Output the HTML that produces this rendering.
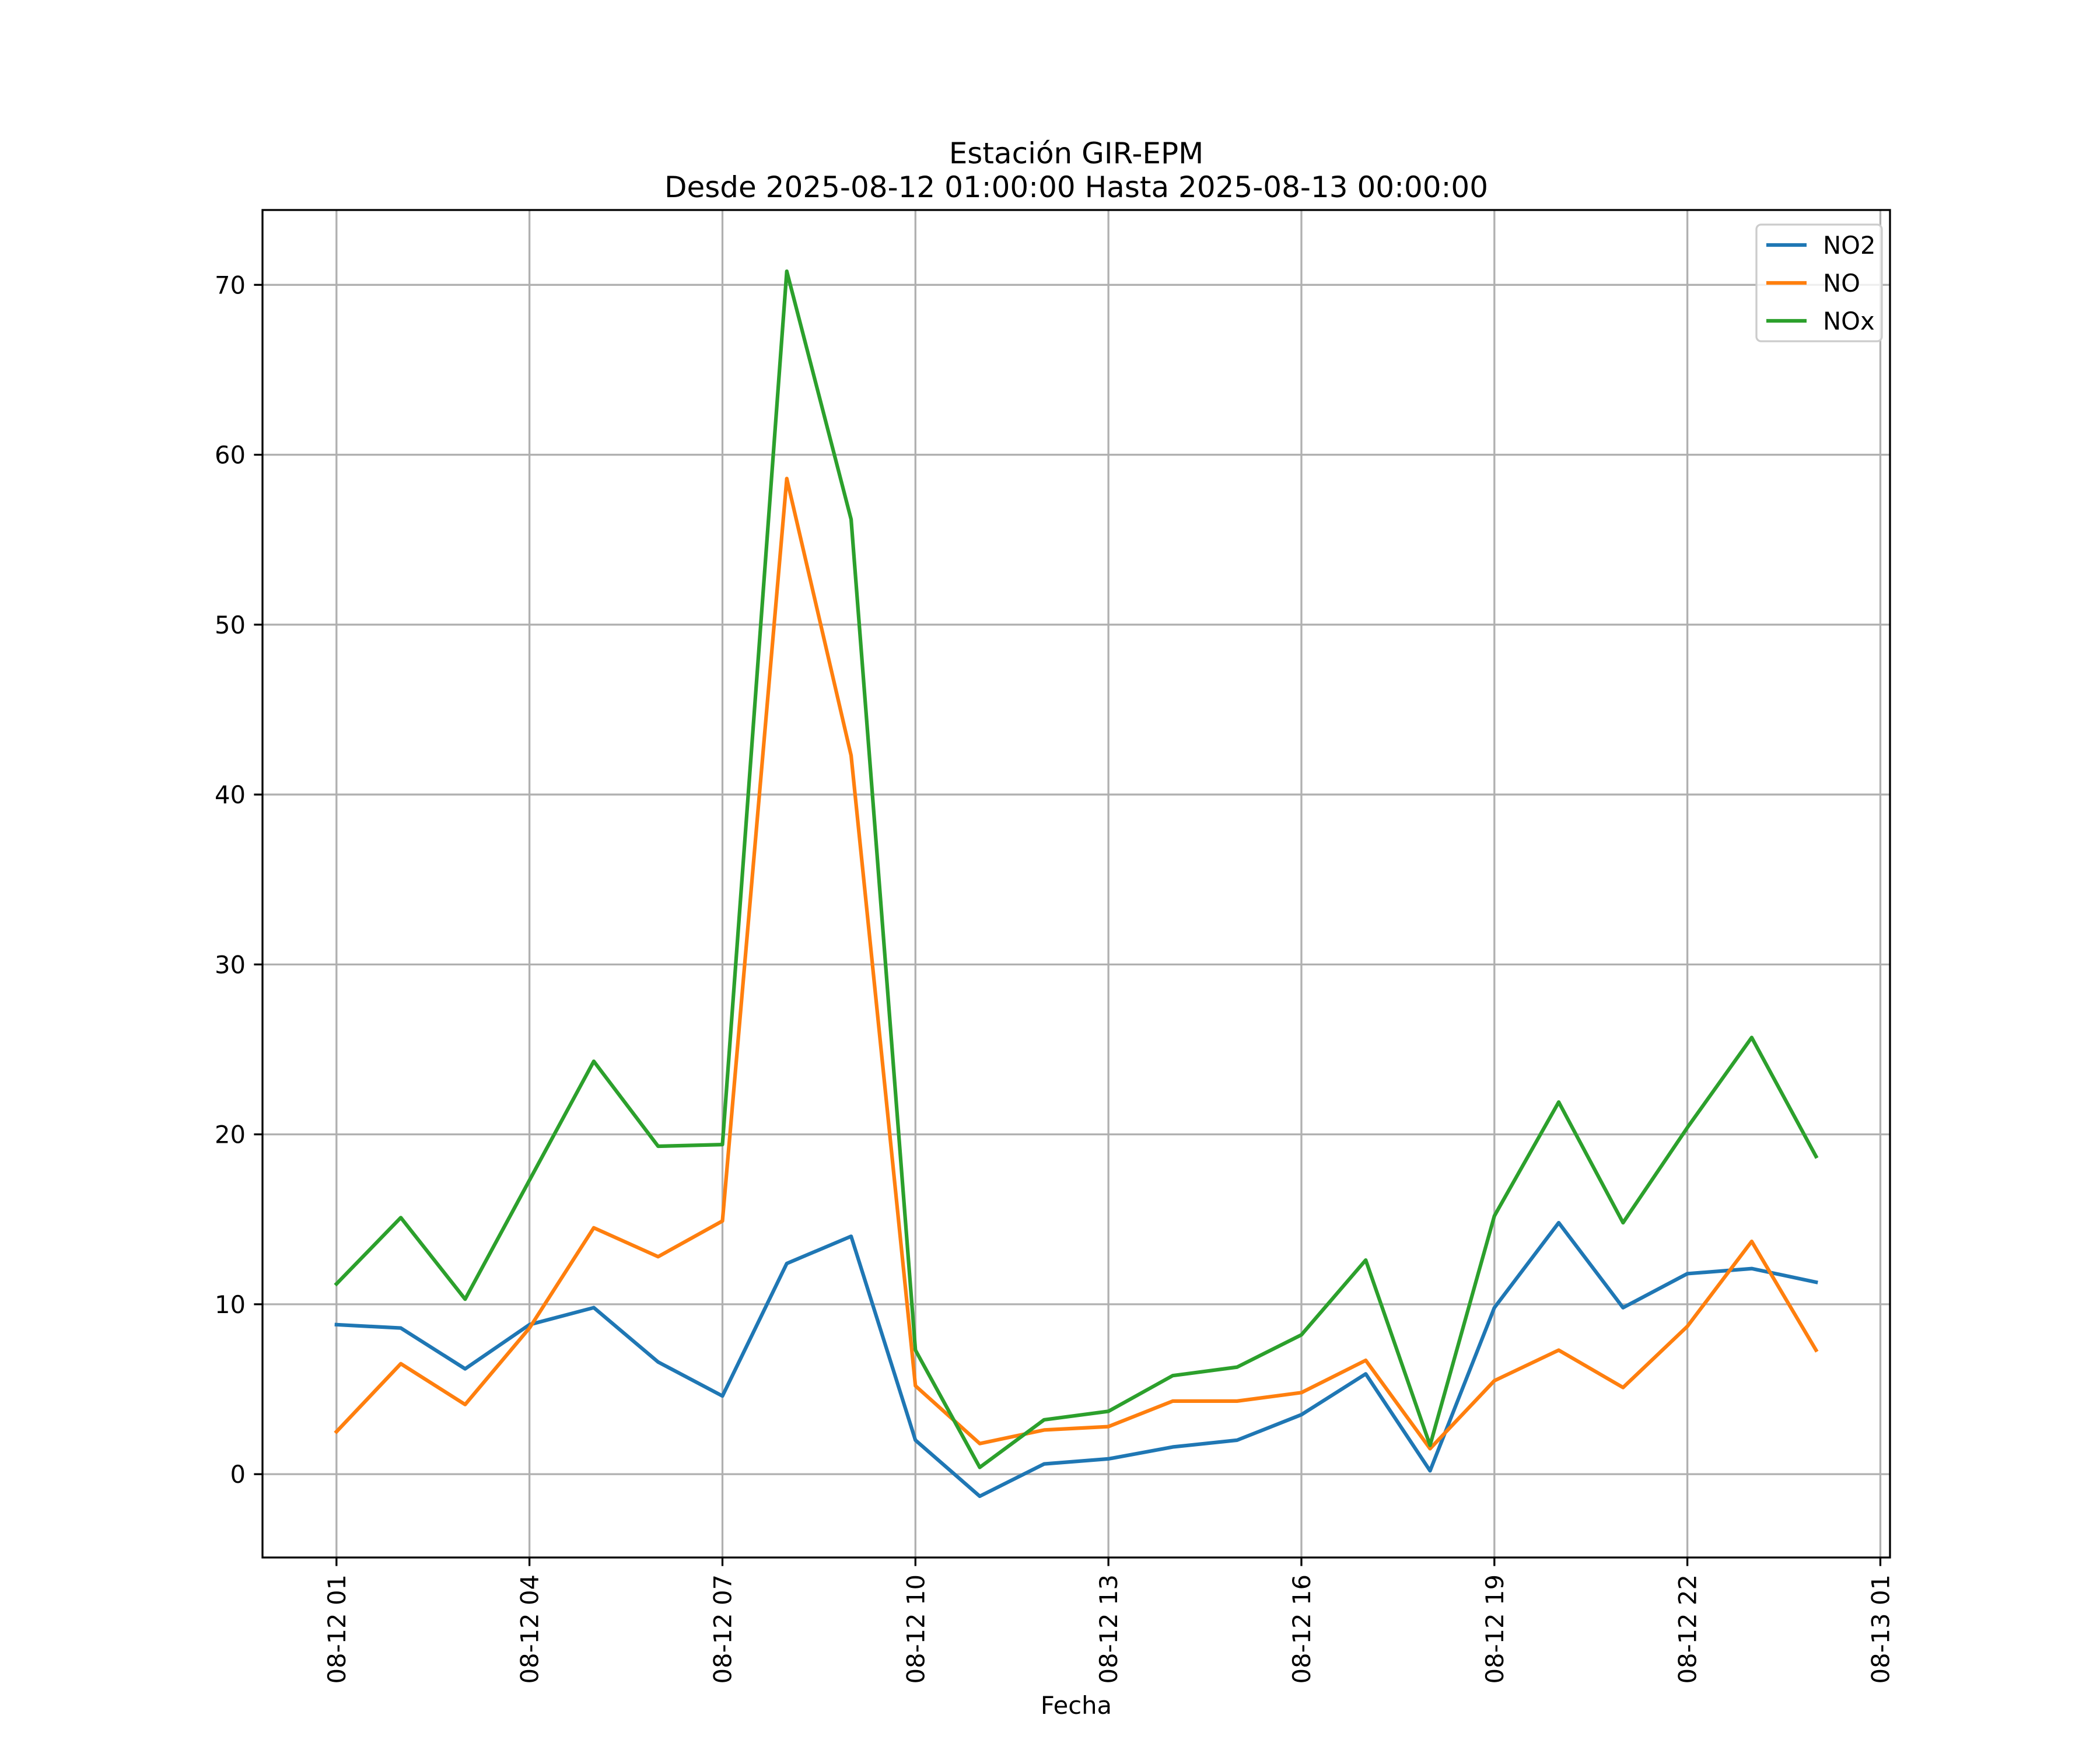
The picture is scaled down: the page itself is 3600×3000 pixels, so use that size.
<!DOCTYPE html>
<html><head><meta charset="utf-8"><style>body{margin:0;background:#fff}svg{display:block;font-family:"DejaVu Sans","Liberation Sans",sans-serif}</style></head>
<body>
<svg id="chart" width="3600" height="3000" viewBox="0 0 3600 3000" xmlns="http://www.w3.org/2000/svg">
<rect width="3600" height="3000" fill="#fff"/>
<text x="1845" y="280" font-size="50" text-anchor="middle">Estación GIR-EPM</text>
<text x="1845" y="338" font-size="50" text-anchor="middle">Desde 2025-08-12 01:00:00 Hasta 2025-08-13 00:00:00</text>
<g id="grid"></g><g id="series"></g><g id="axes"></g><g id="legend"></g>
<text x="1845" y="2938" font-size="41.7" text-anchor="middle">Fecha</text>
</svg>
<script>
const hours=[1,2,3,4,5,6,7,8,9,10,11,12,13,14,15,16,17,18,19,20,21,22,23,24];
const no2=[8.8,8.6,6.2,8.8,9.8,6.6,4.6,12.4,14.0,2.0,-1.3,0.6,0.9,1.6,2.0,3.5,5.9,0.2,9.8,14.8,9.8,11.8,12.1,11.3];
const no=[2.5,6.5,4.1,8.6,14.5,12.8,14.9,58.6,42.3,5.2,1.8,2.6,2.8,4.3,4.3,4.8,6.7,1.5,5.5,7.3,5.1,8.7,13.7,7.3];
const nox=[11.2,15.1,10.3,17.3,24.3,19.3,19.4,70.8,56.2,7.3,0.4,3.2,3.7,5.8,6.3,8.2,12.6,1.7,15.2,21.9,14.8,20.4,25.7,18.7];
const yTicks=[0,10,20,30,40,50,60,70];
const xTickHours=[1,4,7,10,13,16,19,22,25];
const xTickLabels=["08-12 01","08-12 04","08-12 07","08-12 10","08-12 13","08-12 16","08-12 19","08-12 22","08-13 01"];
const seriesNames=["NO2","NO","NOx"];
const colors=["#1f77b4","#ff7f0e","#2ca02c"];

const L=450,R=3240,T=360,B=2670,NS="http://www.w3.org/2000/svg";
const allV=no2.concat(no,nox);
const vmin=Math.min(...allV),vmax=Math.max(...allV),vm=(vmax-vmin)*0.05;
const y0=vmin-vm,y1=vmax+vm;
const hmin=Math.min(...hours),hmax=Math.max(...hours),hm=(hmax-hmin)*0.05;
const x0=hmin-hm,x1=hmax+hm;
const X=h=>L+(h-x0)/(x1-x0)*(R-L);
const Y=v=>B-(v-y0)/(y1-y0)*(B-T);
function mk(t,a,p){const e=document.createElementNS(NS,t);for(const k in a)e.setAttribute(k,a[k]);p.appendChild(e);return e;}
const grid=document.getElementById('grid'),axes=document.getElementById('axes'),ser=document.getElementById('series'),leg=document.getElementById('legend');
yTicks.forEach(v=>{
 const g=mk('line',{x1:L,x2:R,y1:Y(v),y2:Y(v),stroke:'#b0b0b0','stroke-width':3.3},grid);
 
 
 const t=mk('line',{x1:L-14.6,x2:L,y1:Y(v),y2:Y(v),stroke:'#000','stroke-width':3.3},axes);
 
 
 const tx=mk('text',{x:L-29,y:Y(v)+15,'font-size':41.7,'text-anchor':'end'},axes);
 tx.textContent=v;
 
 
});
xTickHours.forEach((h,i)=>{
 const g=mk('line',{x1:X(h),x2:X(h),y1:T,y2:B,stroke:'#b0b0b0','stroke-width':3.3},grid);
 
 
 const t=mk('line',{x1:X(h),x2:X(h),y1:B,y2:B+14.6,stroke:'#000','stroke-width':3.3},axes);
 
 
 const tx=mk('text',{x:0,y:0,'font-size':41.7,'text-anchor':'end',transform:`translate(${X(h)+15},${B+29}) rotate(-90)`},axes);
 tx.textContent=xTickLabels[i];
 
 
});
const frame=mk('rect',{x:L,y:T,width:R-L,height:B-T,fill:'none',stroke:'#000','stroke-width':3.3},axes);


[no2,no,nox].forEach((d,i)=>{
 const p=mk('polyline',{points:d.map((v,j)=>X(hours[j])+','+Y(v)).join(' '),fill:'none',stroke:colors[i],'stroke-width':6.25,'stroke-linejoin':'round','stroke-linecap':'square'},ser);
 
 
});
const lb=mk('rect',{x:3011,y:385,width:215,height:200,rx:8,fill:'#fff','fill-opacity':0.8,stroke:'#cccccc','stroke-width':3.3},leg);


seriesNames.forEach((n,i)=>{
 const yy=420+i*65;
 const l=mk('line',{x1:3028,x2:3097,y1:yy,y2:yy,stroke:colors[i],'stroke-width':6.25},leg);
 
 
 const t=mk('text',{x:3125,y:yy+15,'font-size':41.7},leg);
 t.textContent=n;
 
 
});
</script>
</body></html>
